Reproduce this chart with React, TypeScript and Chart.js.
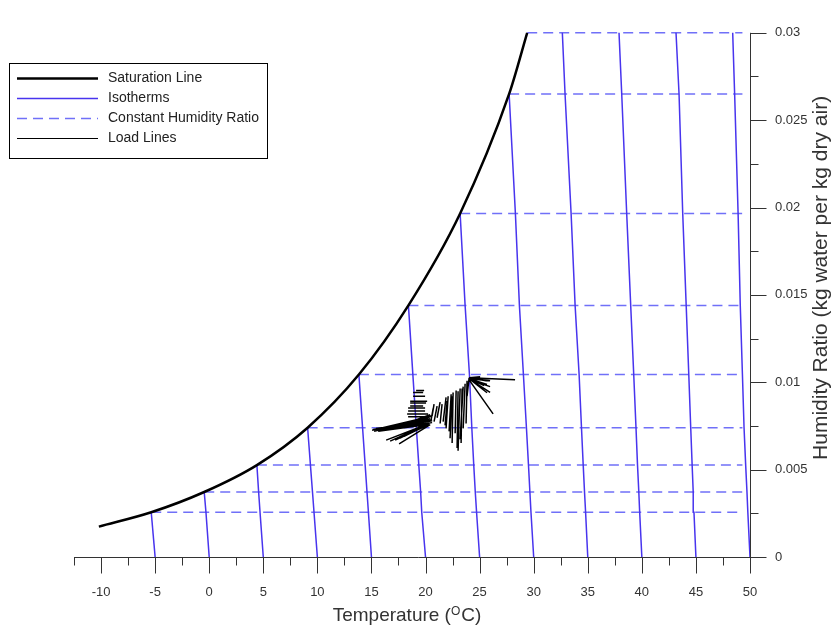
import React, { useEffect, useRef } from "react";
import { Chart, registerables } from "chart.js";
Chart.register(...registerables);

const FONT = "'Liberation Sans', Arial, sans-serif";

// Axis ticks
const xMajorTicks = [-10, -5, 0, 5, 10, 15, 20, 25, 30, 35, 40, 45, 50];
const xMinorTicks = [-12.5, -7.5, -2.5, 2.5, 7.5, 12.5, 17.5, 22.5, 27.5, 32.5, 37.5, 42.5, 47.5];
const yMajorTicks = [0, 0.005, 0.01, 0.015, 0.02, 0.025, 0.03];
const yTickLabels = ["0", "0.005", "0.01", "0.015", "0.02", "0.025", "0.03"];
const yMinorTicks = [0.0025, 0.0075, 0.0125, 0.0175, 0.0225, 0.0275];

// Saturation line
const satT = [-10.2, -5.36, -0.46, 4.41, 9.1, 13.84, 18.42, 23.2, 27.73, 29.4];
const satW = [0.00174, 0.00256, 0.00372, 0.00526, 0.0074, 0.01044, 0.0144, 0.01966, 0.0265, 0.03];

// Constant humidity ratio lines (start on saturation line, end near 50 C)
const humidityLevels = [0.00256, 0.00372, 0.00526, 0.0074, 0.01044, 0.0144, 0.01966, 0.0265, 0.03];
const humidityStartT = [-5.36, -0.46, 4.41, 9.1, 13.84, 18.42, 23.2, 27.73, 29.4];
const humidityEndT = 49.3;

// Isotherms: temperature reading at W = 0 then at each humidity level up to the saturation line / top
const isoW = [0, 0.00256, 0.00372, 0.00526, 0.0074, 0.01044, 0.0144, 0.01966, 0.0265, 0.03];
const isoMinus5 = [-5, -5.36];
const iso0 = [0, -0.3, -0.46];
const iso5 = [5, 4.7, 4.57, 4.41];
const iso10 = [10, 9.69, 9.55, 9.36, 9.1];
const iso15 = [15, 14.72, 14.59, 14.42, 14.18, 13.84];
const iso20 = [20, 19.65, 19.55, 19.38, 19.15, 18.83, 18.42];
const iso25 = [25, 24.72, 24.6, 24.46, 24.28, 24.06, 23.66, 23.2];
const iso30 = [30, 29.75, 29.65, 29.52, 29.33, 29.05, 28.68, 28.31, 27.73];
const iso35 = [35, 34.8, 34.7, 34.58, 34.42, 34.2, 33.83, 33.46, 32.9, 32.65];
const iso40 = [40, 39.8, 39.72, 39.6, 39.46, 39.25, 38.97, 38.6, 38.14, 37.89];
const iso45 = [45, 44.82, 44.75, 44.65, 44.52, 44.34, 44.1, 43.78, 43.44, 43.16];
const iso50 = [50, 49.8, 49.72, 49.6, 49.45, 49.3, 49.1, 48.9, 48.58, 48.4];
const isotherms = [isoMinus5, iso0, iso5, iso10, iso15, iso20, iso25, iso30, iso35, iso40, iso45, iso50];

// Load lines: segment start / end points
const loadT1 = [
  18.85, 18.85, 18.58, 18.58, 18.39, 18.3, 18.39, 19.13, 18.58, 18.39,
  15.06, 15.16, 15.43, 15.8, 16.27, 15.62, 16.73, 17.19, 15.25, 15.62, 16.08, 16.54, 16.91, 17.65, 18.11, 18.58,
  20.33, 20.33, 20.33, 20.24, 20.33, 20.43, 20.33, 20.33,
  20.52, 20.79, 21.07, 21.35, 21.63, 21.9, 22.18, 22.46, 22.74, 23.01, 23.2, 23.48, 23.75, 23.84, 20.61, 21.81, 22.27, 22.92, 23.29,
  24.03, 24.03, 24.03, 24.03, 24.03, 24.03, 24.03, 24.03, 24.03, 24.03, 24.12,
];
const loadW1 = [
  0.00942, 0.0092, 0.00892, 0.00864, 0.00836, 0.00819, 0.00803, 0.00953, 0.00881, 0.00853,
  0.00725, 0.0073, 0.00736, 0.0073, 0.00741, 0.00719, 0.00741, 0.00747, 0.00719, 0.0073, 0.00725, 0.00736, 0.00736, 0.00741, 0.00747, 0.00758,
  0.00764, 0.00758, 0.00764, 0.00758, 0.00769, 0.00758, 0.00758, 0.00764,
  0.00786, 0.00775, 0.00797, 0.00764, 0.00775, 0.00736, 0.00719, 0.00652, 0.00708, 0.00608, 0.00674, 0.00736, 0.00764, 0.0092, 0.00808, 0.00753, 0.0068, 0.00624, 0.00652,
  0.01026, 0.01026, 0.0102, 0.0102, 0.0102, 0.01014, 0.0102, 0.01026, 0.01026, 0.0102, 0.01014,
];
const loadT2 = [
  19.78, 19.96, 20.15, 19.78, 19.96, 20.24, 20.24, 19.87, 20.05, 19.96,
  20.33, 20.43, 20.33, 20.43, 20.43, 20.24, 20.43, 20.24, 20.61, 20.61, 20.43, 20.61, 20.43, 20.61, 20.43, 20.61,
  16.73, 17.19, 17.65, 18.02, 18.39, 17.56, 18.58, 16.36,
  20.7, 21.07, 21.35, 21.53, 21.9, 22.09, 22.37, 22.55, 22.83, 23.2, 23.48, 23.66, 23.84, 24.03, 20.79, 22.0, 22.46, 23.01, 23.38,
  28.28, 25.79, 25.97, 25.97, 25.69, 26.25, 25.42, 25.05, 25.6, 25.69, 25.97,
];
const loadW2 = [
  0.00942, 0.0092, 0.00892, 0.00864, 0.00836, 0.00819, 0.00803, 0.00953, 0.00881, 0.00853,
  0.00803, 0.00786, 0.00775, 0.00764, 0.00792, 0.00758, 0.0078, 0.00797, 0.00808, 0.00769, 0.00803, 0.0078, 0.00814, 0.00786, 0.00764, 0.00808,
  0.00663, 0.00669, 0.0068, 0.00691, 0.00708, 0.00647, 0.00719, 0.00669,
  0.00847, 0.00864, 0.00886, 0.00875, 0.00914, 0.0092, 0.00931, 0.00942, 0.00953, 0.00964, 0.00975, 0.00992, 0.01009, 0.01026, 0.00875, 0.00892, 0.0092, 0.00948, 0.00964,
  0.01014, 0.0102, 0.01009, 0.00942, 0.0094, 0.00819, 0.00981, 0.01031, 0.01009, 0.00987, 0.00975,
];

const legendLabels = ["Saturation Line", "Isotherms", "Constant Humidity Ratio", "Load Lines"];

const ISO_COLOR = "rgb(72, 52, 238)";
const DASH_COLOR = "rgb(112, 112, 248)";
const AXIS_COLOR = "#333333";
const TEXT_COLOR = "#333333";

const axesPlugin = {
  id: "customAxes",
  afterDatasetsDraw(chart: any) {
    const { ctx, scales } = chart;
    const x = scales.x;
    const y = scales.y;
    const yb = Math.round(y.getPixelForValue(0)) + 0.5;
    const xr = Math.round(x.getPixelForValue(50)) + 0.5;
    const xl = x.getPixelForValue(-12.5);
    const yt = y.getPixelForValue(0.03);
    ctx.save();
    ctx.strokeStyle = AXIS_COLOR;
    ctx.lineWidth = 1;
    ctx.beginPath();
    ctx.moveTo(xl, yb);
    ctx.lineTo(xr + 13, yb);
    ctx.moveTo(xr, yt);
    ctx.lineTo(xr, yb);
    xMajorTicks.forEach((v) => {
      const px = Math.round(x.getPixelForValue(v)) + 0.5;
      ctx.moveTo(px, yb);
      ctx.lineTo(px, yb + 16);
    });
    xMinorTicks.forEach((v) => {
      const px = Math.round(x.getPixelForValue(v)) + 0.5;
      ctx.moveTo(px, yb);
      ctx.lineTo(px, yb + 8);
    });
    yMajorTicks.forEach((v) => {
      const py = Math.round(y.getPixelForValue(v)) + 0.5;
      ctx.moveTo(xr, py);
      ctx.lineTo(xr + 16, py);
    });
    yMinorTicks.forEach((v) => {
      const py = Math.round(y.getPixelForValue(v)) + 0.5;
      ctx.moveTo(xr, py);
      ctx.lineTo(xr + 8, py);
    });
    ctx.stroke();

    // X title with superscript O
    const ca = chart.chartArea;
    ctx.fillStyle = TEXT_COLOR;
    ctx.textBaseline = "alphabetic";
    ctx.textAlign = "left";
    const big = "19px " + FONT;
    const small = "12px " + FONT;
    const p1 = "Temperature (";
    const p2 = "O";
    const p3 = "C)";
    ctx.font = big;
    const w1 = ctx.measureText(p1).width;
    const w3 = ctx.measureText(p3).width;
    ctx.font = small;
    const w2 = ctx.measureText(p2).width;
    const total = w1 + w2 + w3 + 1;
    const cx = (ca.left + ca.right) / 2 - 5;
    let sx = cx - total / 2;
    const base = ca.bottom + 64;
    ctx.font = big;
    ctx.fillText(p1, sx, base);
    sx += w1;
    ctx.font = small;
    ctx.fillText(p2, sx, base - 6);
    sx += w2 + 1;
    ctx.font = big;
    ctx.fillText(p3, sx, base);

    // Y title rotated
    ctx.save();
    ctx.translate(ca.right + 71, (ca.top + ca.bottom) / 2 - 17);
    ctx.rotate(-Math.PI / 2);
    ctx.textAlign = "center";
    ctx.textBaseline = "middle";
    ctx.font = "21px " + FONT;
    ctx.fillText("Humidity Ratio (kg water per kg dry air)", 0, 0);
    ctx.restore();

    // Legend
    ctx.strokeStyle = "#000";
    ctx.lineWidth = 1;
    ctx.strokeRect(9.5, 63.5, 258, 95);
    const rows = [78, 98, 118, 138];
    const styles = [
      { c: "#000", w: 2.5, d: [] as number[] },
      { c: ISO_COLOR, w: 1.5, d: [] as number[] },
      { c: DASH_COLOR, w: 1.5, d: [10, 6] },
      { c: "#000", w: 1, d: [] as number[] },
    ];
    rows.forEach((ry, i) => {
      const s = styles[i];
      ctx.beginPath();
      ctx.strokeStyle = s.c;
      ctx.lineWidth = s.w;
      ctx.setLineDash(s.d);
      ctx.moveTo(17, ry + 0.5);
      ctx.lineTo(98, ry + 0.5);
      ctx.stroke();
      ctx.setLineDash([]);
      ctx.fillStyle = "#222";
      ctx.font = "14px " + FONT;
      ctx.textAlign = "left";
      ctx.textBaseline = "middle";
      ctx.fillText(legendLabels[i], 108, ry);
    });
    ctx.restore();
  },
};

export default function App() {
  const ref = useRef<HTMLCanvasElement | null>(null);
  useEffect(() => {
    if (!ref.current) return;
    const datasets: any[] = [];

    const loadData: any[] = [];
    for (let i = 0; i < loadT1.length; i++) {
      loadData.push({ x: loadT1[i], y: loadW1[i] });
      loadData.push({ x: loadT2[i], y: loadW2[i] });
      loadData.push({ x: loadT2[i], y: null });
    }
    datasets.push({
      label: "Load Lines",
      data: loadData,
      borderColor: "#000",
      borderWidth: 1.5,
      showLine: true,
      spanGaps: false,
      pointRadius: 0,
      clip: false,
    });

    datasets.push({
      label: "Saturation Line",
      data: satT.map((t, i) => ({ x: t, y: satW[i] })),
      borderColor: "#000",
      borderWidth: 2.5,
      showLine: true,
      cubicInterpolationMode: "monotone",
      pointRadius: 0,
      clip: false,
    });

    isotherms.forEach((arr) => {
      datasets.push({
        label: "Isotherms",
        data: arr.map((t, i) => ({ x: t, y: isoW[i] })),
        borderColor: ISO_COLOR,
        borderWidth: 1.5,
        showLine: true,
        pointRadius: 0,
        clip: false,
      });
    });

    humidityLevels.forEach((w, i) => {
      datasets.push({
        label: "Constant Humidity Ratio",
        data: [
          { x: humidityStartT[i], y: w },
          { x: humidityEndT, y: w },
        ],
        borderColor: DASH_COLOR,
        borderWidth: 1.5,
        borderDash: [10, 6],
        showLine: true,
        pointRadius: 0,
        clip: false,
      });
    });

    const chart = new Chart(ref.current, {
      type: "scatter",
      data: { datasets },
      options: {
        animation: false,
        responsive: false,
        maintainAspectRatio: false,
        layout: { padding: { left: 74, top: 19, right: 0, bottom: 0 } },
        plugins: { legend: { display: false }, tooltip: { enabled: false } },
        elements: { point: { radius: 0 } },
        scales: {
          x: {
            type: "linear",
            min: -12.5,
            max: 50,
            grid: { display: false, drawTicks: false },
            border: { display: false },
            afterBuildTicks: (s: any) => {
              s.ticks = xMajorTicks.map((v) => ({ value: v }));
            },
            afterFit: (s: any) => {
              s.height = 75;
            },
            ticks: {
              autoSkip: false,
              maxRotation: 0,
              padding: 28,
              color: TEXT_COLOR,
              font: { family: FONT, size: 13 },
              callback: (v: any) => String(v),
            },
          },
          y: {
            type: "linear",
            position: "right",
            min: 0,
            max: 0.03,
            grid: { display: false, drawTicks: false },
            border: { display: false },
            afterBuildTicks: (s: any) => {
              s.ticks = yMajorTicks.map((v) => ({ value: v }));
            },
            afterFit: (s: any) => {
              s.width = 85;
            },
            ticks: {
              autoSkip: false,
              padding: 25,
              color: TEXT_COLOR,
              font: { family: FONT, size: 13 },
              callback: (_v: any, i: number) => yTickLabels[i],
            },
          },
        },
      } as any,
      plugins: [axesPlugin],
    });
    return () => chart.destroy();
  }, []);

  return (
    <div style={{ position: "fixed", left: 0, top: 0, width: 835, height: 632, background: "#fff" }}>
      <canvas ref={ref} width={835} height={632} style={{ display: "block", width: 835, height: 632 }} />
    </div>
  );
}
